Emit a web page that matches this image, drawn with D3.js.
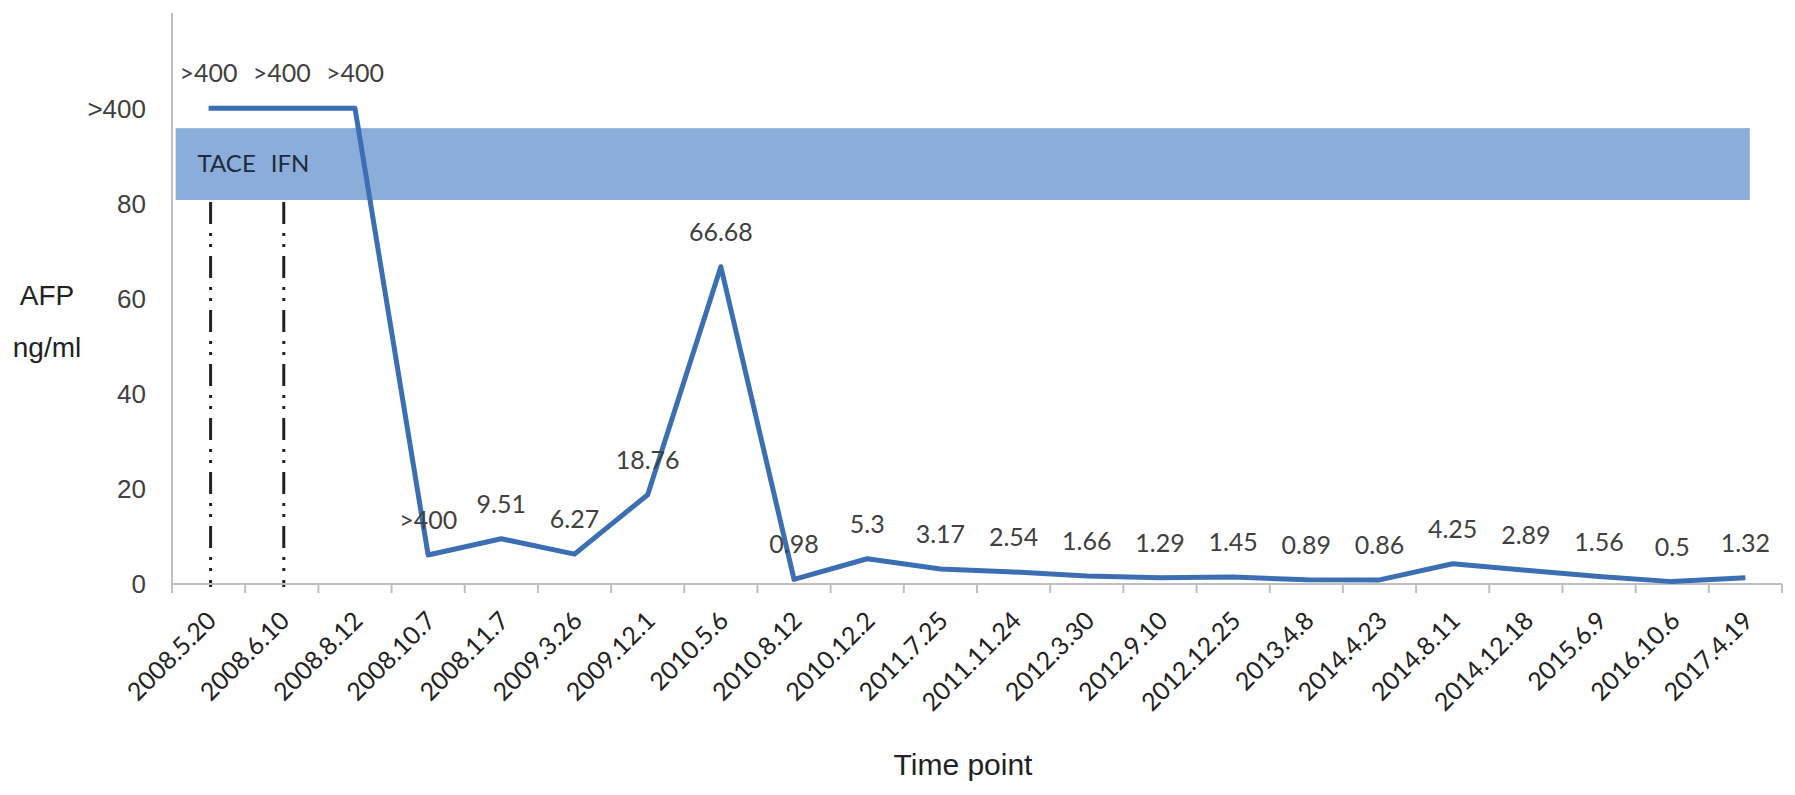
<!DOCTYPE html>
<html><head><meta charset="utf-8">
<script src="https://cdn.jsdelivr.net/npm/d3@7"></script>
<style>html,body{margin:0;padding:0;background:#fff;} svg{display:block;}</style>
</head><body><svg id="chart" width="1795" height="795"></svg>
<script>
const categories = ["2008.5.20","2008.6.10","2008.8.12","2008.10.7","2008.11.7","2009.3.26","2009.12.1","2010.5.6","2010.8.12","2010.12.2","2011.7.25","2011.11.24","2012.3.30","2012.9.10","2012.12.25","2013.4.8","2014.4.23","2014.8.11","2014.12.18","2015.6.9","2016.10.6","2017.4.19"];
const afpValues = [100,100,100,6.1,9.51,6.27,18.76,66.68,0.98,5.3,3.17,2.54,1.66,1.29,1.45,0.89,0.86,4.25,2.89,1.56,0.5,1.32];
const dataLabels = [">400",">400",">400",">400","9.51","6.27","18.76","66.68","0.98","5.3","3.17","2.54","1.66","1.29","1.45","0.89","0.86","4.25","2.89","1.56","0.5","1.32"];
const yTickValues = [0,20,40,60,80,100];
const yTickLabels = ["0","20","40","60","80",">400"];
const treatmentNames = ["TACE","IFN"];
const treatmentDates = ["2008.5.20","2008.6.10"];
const bandRange = [80.7, 95.8];

const svg = d3.select("#chart");
const plot = {left:172, right:1782, top:13, bottom:584};
const x = d3.scaleBand().domain(categories).range([plot.left, plot.right]).padding(0);
const y = d3.scaleLinear().domain([0,120]).range([plot.bottom, plot.top]);
const cx = d => x(d) + x.bandwidth()/2;
const axisColor = "#bfbfbf";
const labelFont = "Lato, 'Open Sans', sans-serif";
const axisFont = "'Liberation Sans', Arial, sans-serif";

// band annotation
const bandX0 = cx(categories[0]) - x.bandwidth()*0.45;
const bandX1 = cx(categories[categories.length-1]) + x.bandwidth()*0.06;
svg.append("rect")
  .attr("x", bandX0)
  .attr("width", bandX1 - bandX0)
  .attr("y", y(bandRange[1]))
  .attr("height", y(bandRange[0]) - y(bandRange[1]))
  .attr("fill", "#8badda");

// treatment dash-dot lines
svg.selectAll("line.treat").data(treatmentDates).join("line")
  .attr("class","treat")
  .attr("x1", d => cx(d)+2).attr("x2", d => cx(d)+2)
  .attr("y1", y(bandRange[0]) + 2).attr("y2", y(0) + 3)
  .attr("stroke", "#222").attr("stroke-width", 3)
  .attr("stroke-dasharray", "22 9 3 8 3 9");

svg.selectAll("text.treat").data(treatmentNames).join("text")
  .attr("class","treat")
  .attr("x", (d,i) => cx(treatmentDates[i]) - 11)
  .attr("y", y((bandRange[0]+bandRange[1])/2) + 8)
  .attr("font-family", labelFont).attr("font-size", 24)
  .attr("fill", "#1e2b3b")
  .text(d => d);

// y axis
svg.append("line").attr("x1", plot.left).attr("x2", plot.left)
  .attr("y1", plot.top).attr("y2", plot.bottom)
  .attr("stroke", axisColor).attr("stroke-width", 2);
svg.selectAll("text.ytick").data(yTickValues).join("text")
  .attr("class","ytick")
  .attr("x", 146).attr("y", d => y(d))
  .attr("dy", "0.36em").attr("text-anchor","end")
  .attr("font-family", axisFont).attr("font-size", 26)
  .attr("fill", "#404040")
  .text((d,i) => yTickLabels[i]);

// x axis
svg.append("line").attr("x1", plot.left).attr("x2", plot.right)
  .attr("y1", plot.bottom).attr("y2", plot.bottom)
  .attr("stroke", axisColor).attr("stroke-width", 2);
const boundaries = categories.map(c => x(c)).concat([x.range()[1]]);
svg.selectAll("line.xtick").data(boundaries).join("line")
  .attr("class","xtick")
  .attr("x1", d => d).attr("x2", d => d)
  .attr("y1", plot.bottom).attr("y2", plot.bottom + 9)
  .attr("stroke", axisColor).attr("stroke-width", 2);
svg.selectAll("text.xlab").data(categories).join("text")
  .attr("class","xlab")
  .attr("transform", d => `translate(${cx(d)+3},${plot.bottom+32}) rotate(-45)`)
  .attr("dy", "0.35em").attr("text-anchor","end")
  .attr("font-family", labelFont).attr("font-size", 25)
  .attr("fill", "#222")
  .text(d => d);

// line
const line = d3.line().x((d,i) => cx(categories[i])).y(d => y(d));
svg.append("path").datum(afpValues)
  .attr("d", line).attr("fill","none")
  .attr("stroke", "#3c6eb4").attr("stroke-width", 5)
  .attr("stroke-linejoin","round");

// data labels
svg.selectAll("text.dlab").data(afpValues).join("text")
  .attr("class","dlab")
  .attr("x", (d,i) => cx(categories[i]))
  .attr("y", d => y(d) - 35)
  .attr("dy", "0.36em").attr("text-anchor","middle")
  .attr("font-family", labelFont).attr("font-size", 25)
  .attr("fill", "#404040")
  .text((d,i) => dataLabels[i]);

// axis titles
svg.append("text").attr("x", 47).attr("y", 305).attr("text-anchor","middle")
  .attr("font-family", axisFont).attr("font-size", 28).attr("fill","#222").text("AFP");
svg.append("text").attr("x", 47).attr("y", 357).attr("text-anchor","middle")
  .attr("font-family", axisFont).attr("font-size", 28).attr("fill","#222").text("ng/ml");
svg.append("text").attr("x", 963).attr("y", 775).attr("text-anchor","middle")
  .attr("font-family", axisFont).attr("font-size", 30).attr("fill","#222").text("Time point");
</script>
</body></html>
